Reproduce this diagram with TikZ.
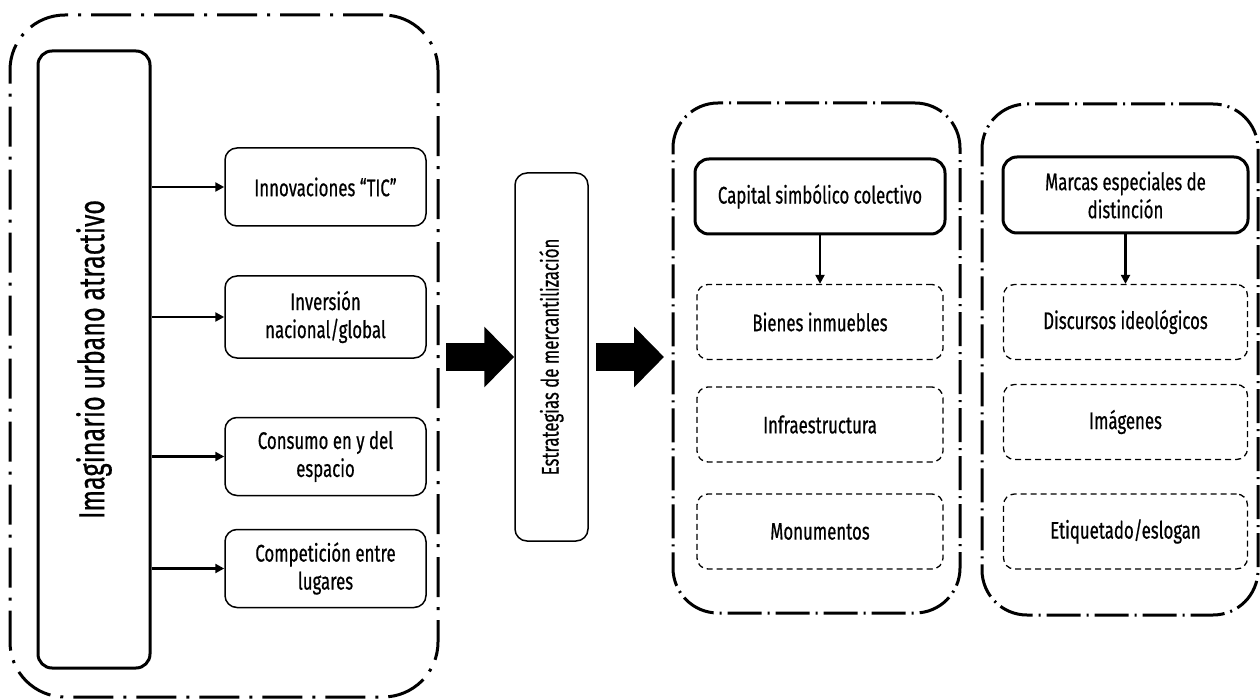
\documentclass[tikz,border=0pt]{standalone}
\usepackage{fontspec}
\setmainfont{Fira Sans}[FakeStretch=0.7, FakeBold=0.6]
\usetikzlibrary{arrows.meta}

\begin{document}
\begin{tikzpicture}[x=1pt, y=-1pt,
    every node/.style={font=\fontsize{24}{28}\selectfont, align=center, inner sep=0pt},
    group/.style={draw, line width=3pt, rounded corners=45pt, dash pattern=on 34pt off 6pt on 2pt off 6pt},
    mainbox/.style={draw, line width=3pt, rounded corners=14pt},
    factor/.style={draw, line width=1.5pt, rounded corners=12pt, minimum width=201pt, minimum height=78pt},
    element/.style={draw, line width=1.3pt, dash pattern=on 6pt off 4pt, rounded corners=11pt, minimum height=75pt},
    arr/.style={line width=2.8pt, -{Triangle[length=9pt, width=9pt]}},
    fatarr/.style={line width=28pt, -{Triangle[length=30pt, width=59pt]}}]
	\useasboundingbox (0,0) rectangle (1260,700);

	\node [group, rounded corners=55pt, dash pattern=on 40pt off 10pt on 3pt off 10pt,
	    minimum width=428pt, minimum height=682pt] (imaginario) at (224,356) {};
	\node [mainbox, minimum width=112pt, minimum height=617pt] (urbano) at (94,359.5)
	    {\rotatebox{90}{\fontsize{36}{42}\selectfont Imaginario urbano atractivo}};

	\node [factor] (tic) at (325.5,187) {Innovaciones “TIC”};
	\node [factor, minimum height=82pt] (inversion) at (325.5,317) {Inversión\\nacional/global};
	\node [factor] (consumo) at (325.5,456.5) {Consumo en y del\\espacio};
	\node [factor] (competicion) at (325.5,568.5) {Competición entre\\lugares};

	\foreach \f in {tic, inversion, consumo, competicion}
		\draw [arr] (urbano.east |- \f.west) -- (\f.west);

	\node [draw, line width=1.5pt, rounded corners=12pt, minimum width=73pt, minimum height=368pt]
	    (estrategias) at (551.5,357) {\rotatebox{90}{Estrategias de mercantilización}};

	\node [group, minimum width=287pt, minimum height=510pt] (simbolico) at (816.5,358) {};
	\node [group, minimum width=276pt, minimum height=511pt] (distincion) at (1120,359.5) {};

	\draw [fatarr] (446,357) -- (estrategias.west);
	\draw [fatarr] ([xshift=7pt]estrategias.east) -- (664,357);

	\node [mainbox, minimum width=250pt, minimum height=75pt] (capital) at (820,196.5) {Capital simbólico colectivo};
	\node [element, minimum width=246pt] (bienes) at (820,322) {Bienes inmuebles};
	\node [element, minimum width=246pt] (infra) at (820,424.5) {Infraestructura};
	\node [element, minimum width=246pt] (monumentos) at (820,531.5) {Monumentos};

	\node [mainbox, minimum width=245pt, minimum height=76pt] (marcas) at (1125.5,195) {Marcas especiales de\\distinción};
	\node [element, minimum width=244pt] (discursos) at (1125.5,322) {Discursos ideológicos};
	\node [element, minimum width=244pt] (imagenes) at (1125.5,422) {Imágenes};
	\node [element, minimum width=244pt] (etiquetado) at (1125.5,531.5) {Etiquetado/eslogan};

	\draw [arr, line width=2.2pt] (capital) -- (bienes);
	\draw [arr, line width=2.2pt] (marcas) -- (discursos);
\end{tikzpicture}
\end{document}
